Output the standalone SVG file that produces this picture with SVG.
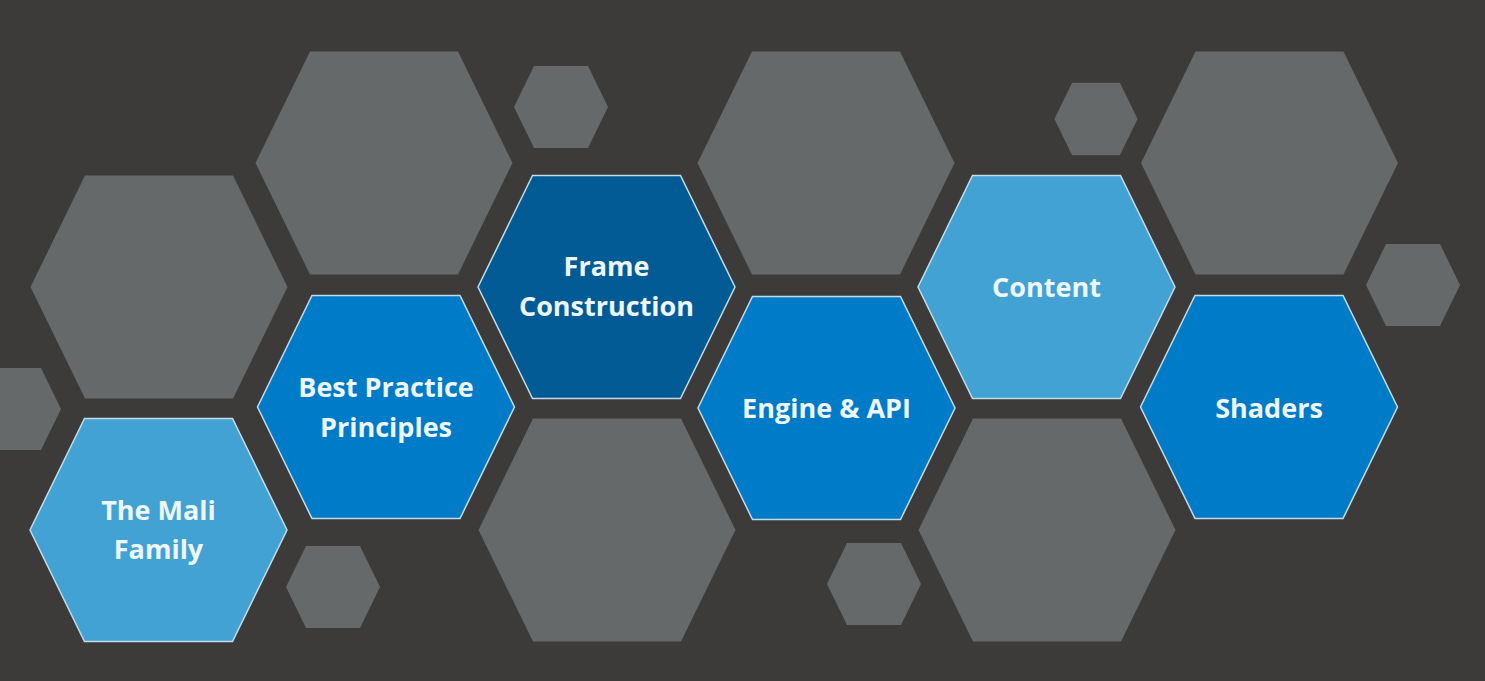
<svg xmlns="http://www.w3.org/2000/svg" xmlns:xlink="http://www.w3.org/1999/xlink" width="1485" height="681" viewBox="0 0 1485 681">
<style>
.bg{fill:#3c3b3a}
.gray{fill:#666969}
.light{fill:#42a2d4;stroke:#c2dcea;stroke-width:1.5}
.mid{fill:#007bc7;stroke:#c2dcea;stroke-width:1.5}
.dark{fill:#025b95;stroke:#c2dcea;stroke-width:1.5}
.lbl{font-family:"Open Sans","Noto Sans","DejaVu Sans",sans-serif;font-weight:700;font-size:27px;fill:#eef7fc;text-anchor:middle}
</style>
<defs>
<polygon id="hexL" points="-74,-111.5 74,-111.5 128.5,0 74,111.5 -74,111.5 -128.5,0"/>
<polygon id="hexS" points="-27,-41 27,-41 47,0 27,41 -27,41 -47,0"/>
</defs>
<rect class="bg" x="0" y="0" width="1485" height="681"/>
<g id="decor">
<use href="#hexL" class="gray" transform="translate(159,287)"/>
<use href="#hexL" class="gray" transform="translate(384,163)"/>
<use href="#hexL" class="gray" transform="translate(607,530)"/>
<use href="#hexL" class="gray" transform="translate(826,163)"/>
<use href="#hexL" class="gray" transform="translate(1047,530)"/>
<use href="#hexL" class="gray" transform="translate(1269.5,163)"/>
<use href="#hexS" class="gray" transform="translate(14,409)"/>
<use href="#hexS" class="gray" transform="translate(333,587)"/>
<use href="#hexS" class="gray" transform="translate(561,107)"/>
<use href="#hexS" class="gray" transform="translate(874,584)"/>
<use href="#hexS" class="gray" transform="translate(1096,119) scale(0.885)"/>
<use href="#hexS" class="gray" transform="translate(1413,285)"/>
</g>
<g id="node-mali">
<use href="#hexL" class="light" transform="translate(158.5,530)"/>
<text class="lbl" x="158.5" y="520">The Mali</text>
<text class="lbl" x="158.5" y="559">Family</text>
</g>
<g id="node-best">
<use href="#hexL" class="mid" transform="translate(386,407)"/>
<text class="lbl" x="386" y="397">Best Practice</text>
<text class="lbl" x="386" y="437">Principles</text>
</g>
<g id="node-frame">
<use href="#hexL" class="dark" transform="translate(606.5,287)"/>
<text class="lbl" x="606.5" y="276">Frame</text>
<text class="lbl" x="606.5" y="316">Construction</text>
</g>
<g id="node-engine">
<use href="#hexL" class="mid" transform="translate(826.5,408)"/>
<text class="lbl" x="826.5" y="418">Engine &amp; API</text>
</g>
<g id="node-content">
<use href="#hexL" class="light" transform="translate(1046.5,287)"/>
<text class="lbl" x="1046.5" y="297">Content</text>
</g>
<g id="node-shaders">
<use href="#hexL" class="mid" transform="translate(1269,407)"/>
<text class="lbl" x="1269" y="418">Shaders</text>
</g>
<g id="connectors"/>
</svg>
